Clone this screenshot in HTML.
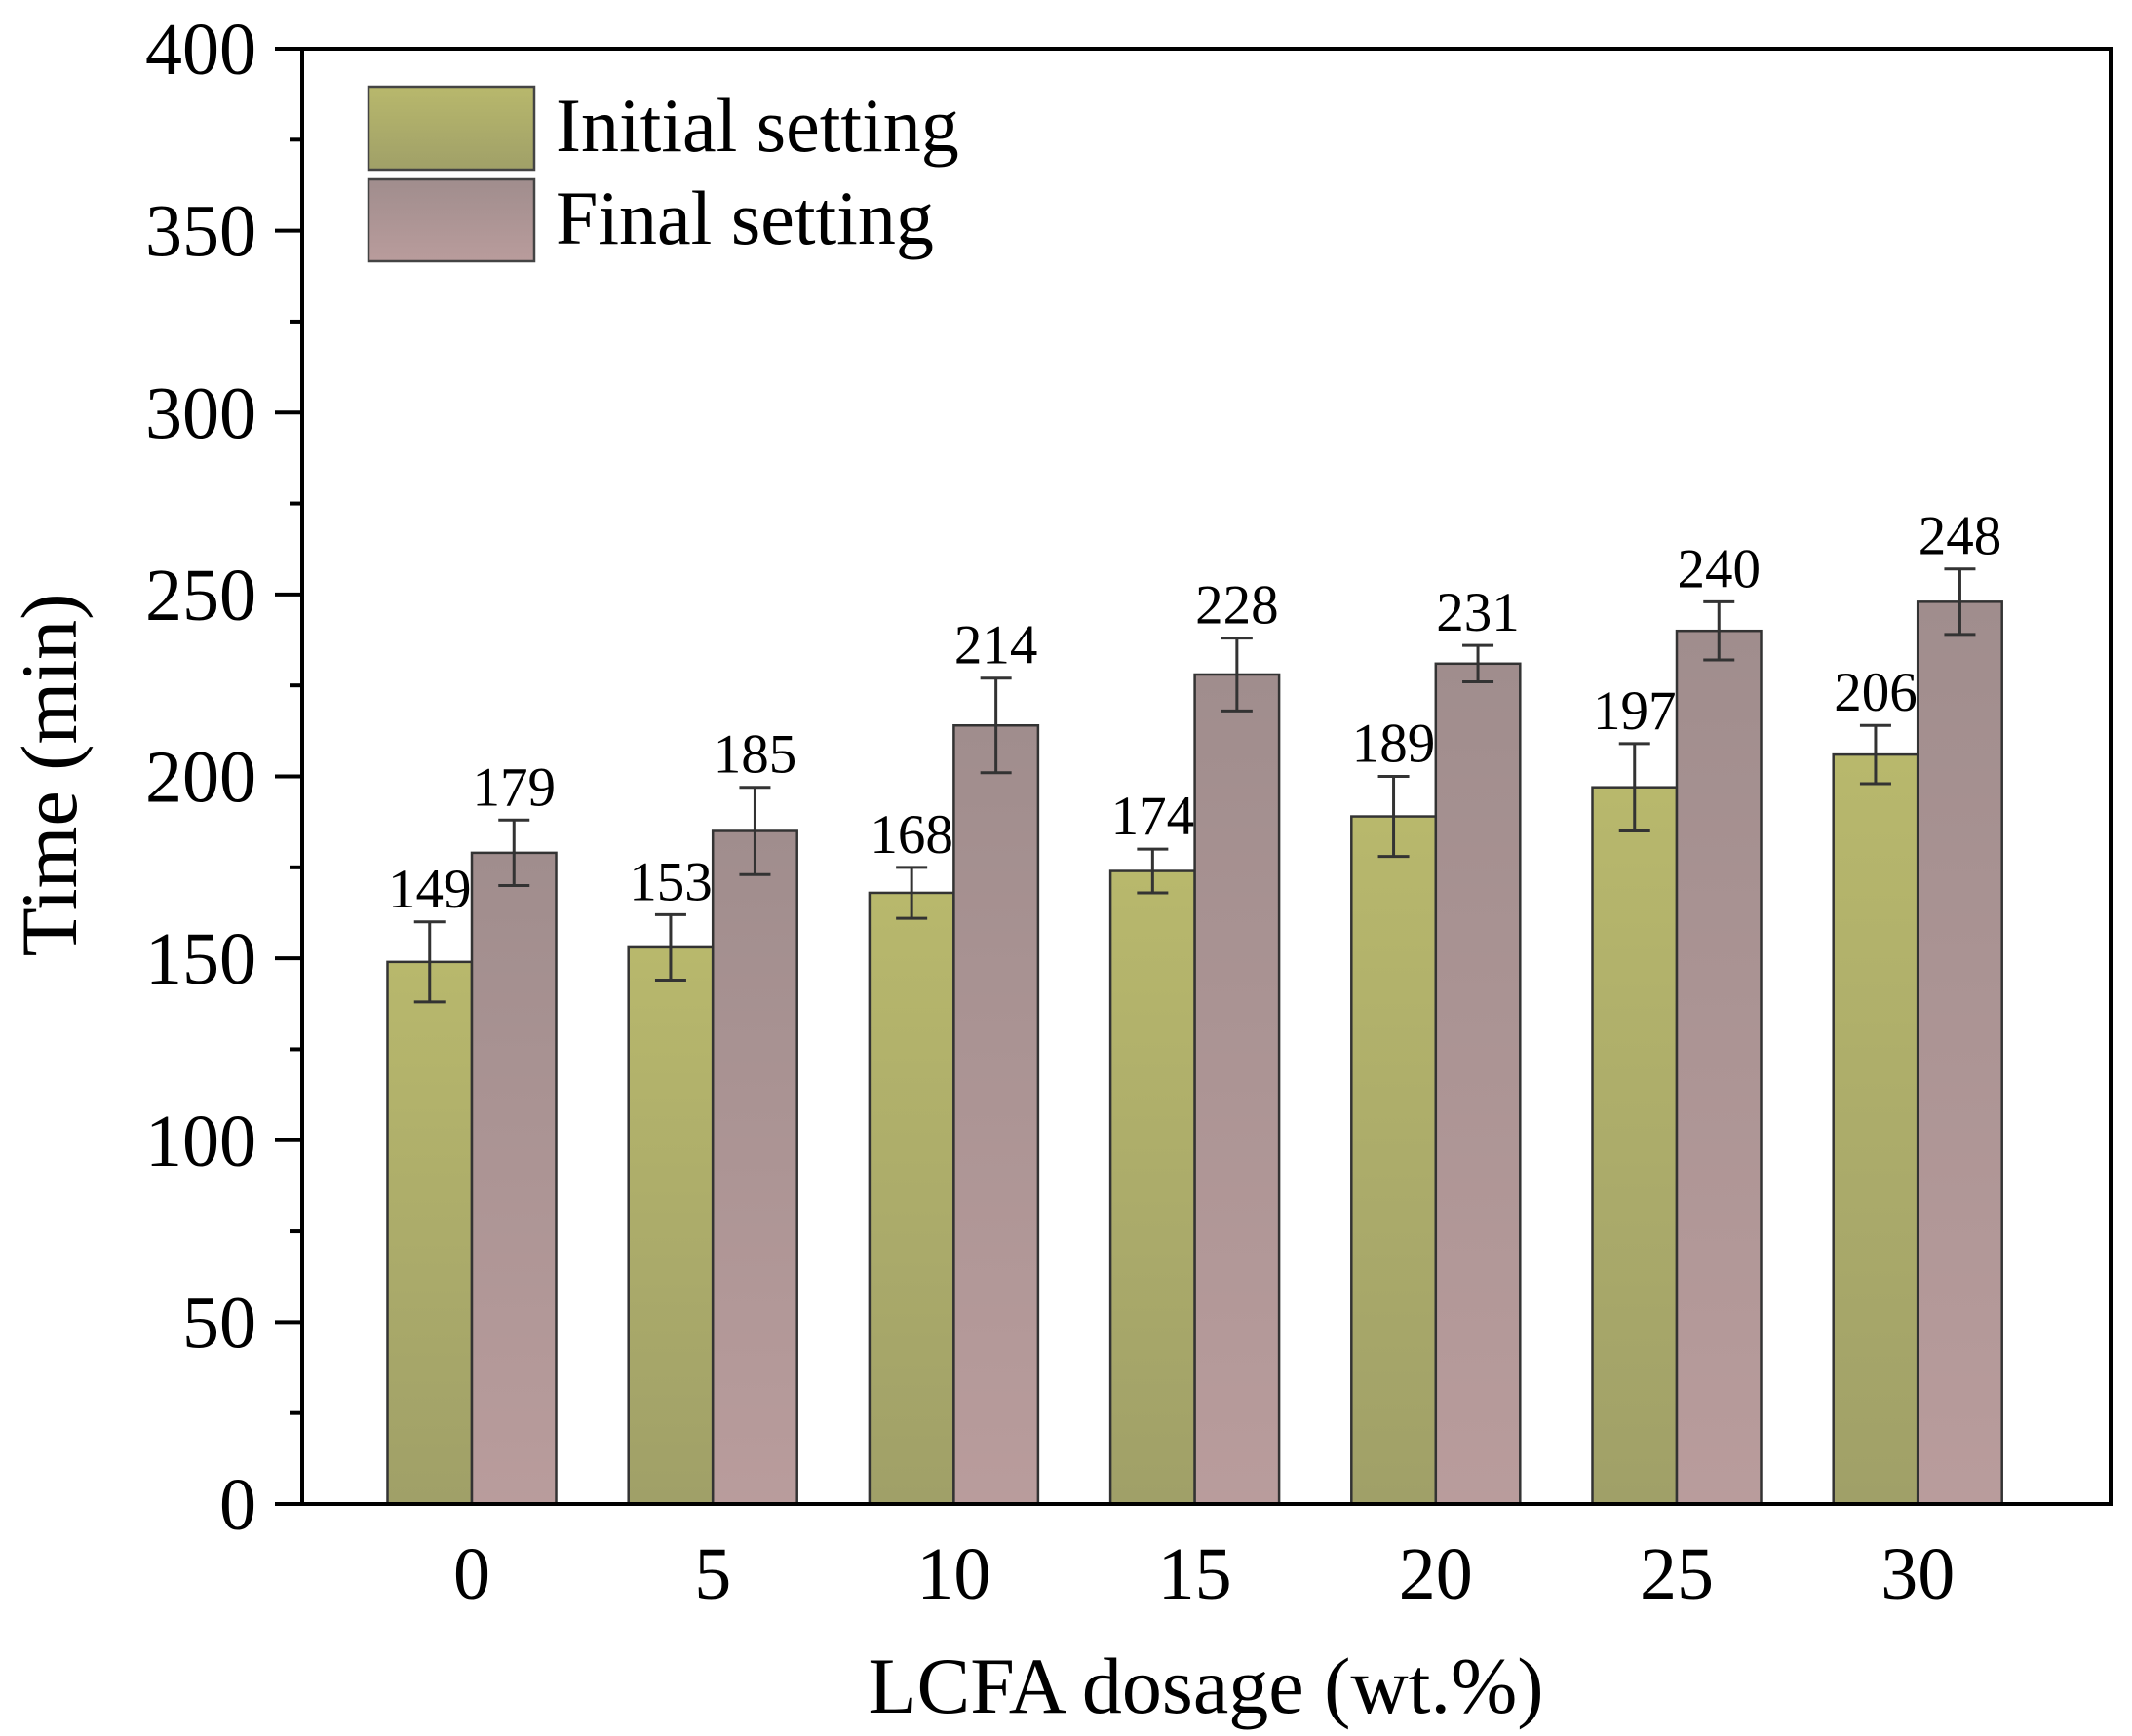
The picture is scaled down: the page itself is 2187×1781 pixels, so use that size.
<!DOCTYPE html>
<html><head><meta charset="utf-8"><style>
html,body{margin:0;padding:0;background:#fff;}
svg{display:block;font-family:"Liberation Serif",serif;}
</style></head><body>
<svg id="chart" width="2187" height="1781" viewBox="0 0 2187 1781" xmlns="http://www.w3.org/2000/svg">
<defs>
<linearGradient id="gInit" x1="0" y1="0" x2="0" y2="1"><stop offset="0" stop-color="#b8b86c"/><stop offset="1" stop-color="#a0a068"/></linearGradient>
<linearGradient id="gFinal" x1="0" y1="0" x2="0" y2="1"><stop offset="0" stop-color="#a08d8d"/><stop offset="1" stop-color="#b99c9c"/></linearGradient>
</defs>
<g id="bars"></g>
<g id="axes"></g>
<g>
<rect x="378" y="89" width="170" height="85" fill="url(#gInit)" stroke="#444" stroke-width="2.5"/>
<text x="570" y="155" font-size="78">Initial setting</text>
<rect x="378" y="184" width="170" height="84" fill="url(#gFinal)" stroke="#444" stroke-width="2.5"/>
<text x="570" y="250" font-size="78">Final setting</text>
</g>
<text transform="translate(78,795) rotate(-90)" text-anchor="middle" font-size="82">Time (min)</text>
<text x="1237" y="1757" text-anchor="middle" font-size="82">LCFA dosage (wt.%)</text>
</svg>
<script>
const categories = ["0","5","10","15","20","25","30"];
const initialValues = [149,153,168,174,189,197,206];
const initialErrors = [11,9,7,6,11,12,8];
const finalValues = [179,185,214,228,231,240,248];
const finalErrors = [9,12,13,10,5,8,9];
const yTicks = [0,50,100,150,200,250,300,350,400];

const NS="http://www.w3.org/2000/svg";
const L=310,R=2165,T=50,B=1543;
const x0=484, step=247.2, bw=86.5;
function y(v){return B-(v/400)*(B-T);}
function xc(i){return x0+i*step;}
function mk(tag,attrs,parent){const e=document.createElementNS(NS,tag);for(const k in attrs)e.setAttribute(k,attrs[k]);parent.appendChild(e);return e;}
const bars=document.getElementById('bars'), axes=document.getElementById('axes');

function drawSeries(vals,errs,fill,off,name){
  vals.forEach((v,i)=>{
    const left=xc(i)+off;
    const r=mk('rect',{x:left,y:y(v),width:bw,height:B-y(v),fill:fill,stroke:'#333','stroke-width':2.5},bars);
    
    
    const cx=left+bw/2;
    const g=mk('g',{stroke:'#333','stroke-width':3},bars);
    
    
    mk('line',{x1:cx,x2:cx,y1:y(v+errs[i]),y2:y(v-errs[i])},g);
    mk('line',{x1:cx-16,x2:cx+16,y1:y(v+errs[i]),y2:y(v+errs[i])},g);
    mk('line',{x1:cx-16,x2:cx+16,y1:y(v-errs[i]),y2:y(v-errs[i])},g);
    const t=mk('text',{x:cx,y:y(v+errs[i])-15,'text-anchor':'middle','font-size':57},bars);
    t.textContent=v;
    
    
  });
}
drawSeries(initialValues,initialErrors,'url(#gInit)',-bw,'initial');
drawSeries(finalValues,finalErrors,'url(#gFinal)',0,'final');

// frame
const fr=mk('rect',{x:L,y:T,width:R-L,height:B-T,fill:'none',stroke:'#000','stroke-width':4},axes);


yTicks.forEach(v=>{
  const ln=mk('line',{x1:L-28,x2:L,y1:y(v),y2:y(v),stroke:'#000','stroke-width':4},axes);
  
  
  const t=mk('text',{x:263,y:y(v)+26,'text-anchor':'end','font-size':76},axes);
  t.textContent=v;
  
  
  if(v<400){
    const m=mk('line',{x1:L-13,x2:L,y1:y(v+25),y2:y(v+25),stroke:'#000','stroke-width':4},axes);
    
    
  }
});
categories.forEach((c,i)=>{
  const t=mk('text',{x:xc(i),y:1640,'text-anchor':'middle','font-size':76},axes);
  t.textContent=c;
  
  
});
</script>
</body></html>
